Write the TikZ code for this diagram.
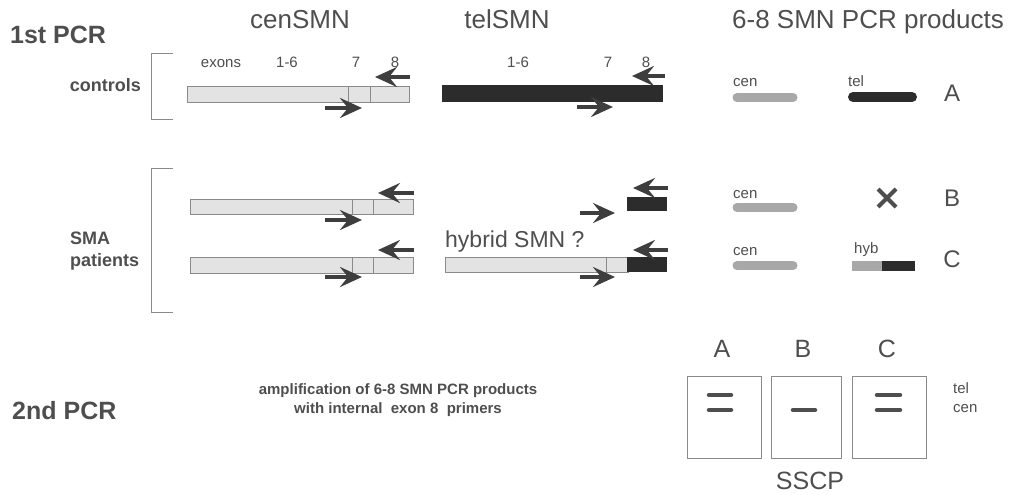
\documentclass[tikz,border=0pt]{standalone}
\usepackage{fontspec}
\setmainfont{Liberation Sans}
\usetikzlibrary{arrows.meta}
\definecolor{ink}{HTML}{4E4E4E}
\definecolor{arr}{HTML}{3E3E3E}
\definecolor{dk}{HTML}{2C2C2C}
\definecolor{lite}{HTML}{E3E3E3}
\definecolor{edge}{HTML}{8A8A8A}
\definecolor{cenp}{HTML}{A8A8A8}
\tikzset{
  lab/.style={text=ink, inner sep=0pt},
  hdr/.style={lab, font=\fontsize{26}{30}\selectfont},
  hdrB/.style={lab, font=\fontsize{25}{30}\selectfont\bfseries},
  grpB/.style={lab, font=\fontsize{18}{22}\selectfont\bfseries},
  small/.style={lab, font=\fontsize{15}{18}\selectfont},
  letter/.style={lab, font=\fontsize{24}{28}\selectfont},
  hyb/.style={lab, font=\fontsize{23}{27}\selectfont},
  note/.style={lab, font=\fontsize{15}{19}\selectfont\bfseries, align=center},
  brk/.style={draw=edge, line width=0.9pt},
  lbar/.style={draw=edge, fill=lite, line width=0.8pt},
  divl/.style={draw=edge, line width=0.8pt},
  dbar/.style={fill=dk},
  primer/.style={draw=arr, line width=4.5pt, -{Stealth[length=22pt,width=20pt,inset=8pt]}},
  cprod/.style={draw=cenp, line width=9pt, line cap=round},
  tprod/.style={draw=dk, line width=10pt, line cap=round},
  gelbox/.style={draw=edge, line width=0.9pt},
  band/.style={draw=ink, line width=4.5pt, line cap=round},
  xmark/.style={draw=ink, line width=4pt}
}
\begin{document}
\begin{tikzpicture}[x=1pt,y=-1pt]
\useasboundingbox (0,0) rectangle (1010,495);
% headers
\node[hdrB, anchor=base west] (pcr1) at (10,44) {1st PCR};
\node[hdr, anchor=base] (cenT) at (300,29) {cenSMN};
\node[hdr, anchor=base] (telT) at (507,29) {telSMN};
\node[hdr, anchor=base] (prodT) at (868,29) {6-8 SMN PCR products};
% group labels and brackets
\node[grpB, anchor=base east] (ctl) at (141,92) {controls};
\node[grpB, anchor=base west] (sma) at (70,244) {SMA};
\node[grpB, anchor=base west] (pat) at (70,266) {patients};
\draw[brk] (173,53) -- (151,53) -- (151,119) -- (173,119);
\draw[brk] (173,168) -- (151,168) -- (151,312) -- (173,312);
% exon labels
\node[small, anchor=base] (ex) at (221,68) {exons};
\node[small, anchor=base] (e16c) at (287,68) {1-6};
\node[small, anchor=base] (e7c) at (356,68) {7};
\node[small, anchor=base] (e8c) at (395,68) {8};
\node[small, anchor=base] (e16t) at (518,68) {1-6};
\node[small, anchor=base] (e7t) at (608,68) {7};
\node[small, anchor=base] (e8t) at (646,68) {8};
% control cenSMN
\draw[lbar] (187,86) rectangle (409,102);
\draw[divl] (348,86) -- (348,102) (370,86) -- (370,102);
\draw[primer] (410,77) -- (375,77);
\draw[primer] (325,108) -- (362,108);
% control telSMN
\fill[dbar] (442,85) rectangle (663,102);
\draw[primer] (665,76) -- (632,76);
\draw[primer] (577,107) -- (613,107);
% SMA B cenSMN
\draw[lbar] (190,199) rectangle (413,214);
\draw[divl] (352,199) -- (352,214) (373,199) -- (373,214);
\draw[primer] (414,193) -- (378,193);
\draw[primer] (325,220) -- (362,220);
% SMA C cenSMN
\draw[lbar] (190,257) rectangle (413,273);
\draw[divl] (352,257) -- (352,273) (373,257) -- (373,273);
\draw[primer] (414,250) -- (378,250);
\draw[primer] (325,277) -- (362,277);
% SMA B telSMN
\fill[dbar] (627,197) rectangle (667,211);
\draw[primer] (668,188) -- (633,188);
\draw[primer] (580,213) -- (615,213);
% SMA C hybrid
\node[hyb, anchor=base west] (hybT) at (445,247) {hybrid SMN ?};
\draw[lbar] (445,257) rectangle (628,272);
\draw[divl] (606,257) -- (606,272);
\fill[dbar] (627,257) rectangle (667,272);
\draw[primer] (668,250) -- (633,250);
\draw[primer] (580,277) -- (615,277);
% products
\node[small, anchor=base west] (pcA) at (733,86) {cen};
\draw[cprod] (737,97.5) -- (793,97.5);
\node[small, anchor=base west] (ptA) at (848,86) {tel};
\draw[tprod] (853,97) -- (912,97);
\node[letter, anchor=base] (LA) at (952,102) {A};
\node[small, anchor=base west] (pcB) at (733,198) {cen};
\draw[cprod] (737,207.5) -- (793,207.5);
\draw[xmark] (878,189) -- (896,207) (878,207) -- (896,189);
\node[letter, anchor=base] (LB) at (952,206) {B};
\node[small, anchor=base west] (pcC) at (733,255) {cen};
\draw[cprod] (737,265.5) -- (793,265.5);
\node[small, anchor=base west] (phC) at (854,253) {hyb};
\fill[cenp] (852,261) rectangle (882,271);
\fill[dk] (882,261) rectangle (915,271);
\node[letter, anchor=base] (LC) at (952,267) {C};
% 2nd PCR
\node[hdrB, anchor=base west] (pcr2) at (12,419) {2nd PCR};
\node[note, anchor=base] (amp) at (398,413) {amplification of 6-8 SMN PCR products\\with internal\ \ exon 8\ \ primers};
% gels
\node[letter, anchor=base, font=\fontsize{25}{28}\selectfont] (gA) at (722,357) {A};
\node[letter, anchor=base, font=\fontsize{25}{28}\selectfont] (gB) at (803,357) {B};
\node[letter, anchor=base, font=\fontsize{25}{28}\selectfont] (gC) at (887,357) {C};
\draw[gelbox] (687,376) rectangle (761,458);
\draw[gelbox] (771,376) rectangle (841,458);
\draw[gelbox] (852,376) rectangle (926,458);
\draw[band] (709,395) -- (731,395) (709,410) -- (731,410);
\draw[band] (793,410) -- (815,410);
\draw[band] (877,395) -- (900,395) (877,410) -- (900,410);
\node[small, anchor=base west] (gtel) at (953,393) {tel};
\node[small, anchor=base west] (gcen) at (953,412) {cen};
\node[lab, anchor=base, font=\fontsize{25}{28}\selectfont] (sscp) at (810,489) {SSCP};
\end{tikzpicture}
\end{document}
